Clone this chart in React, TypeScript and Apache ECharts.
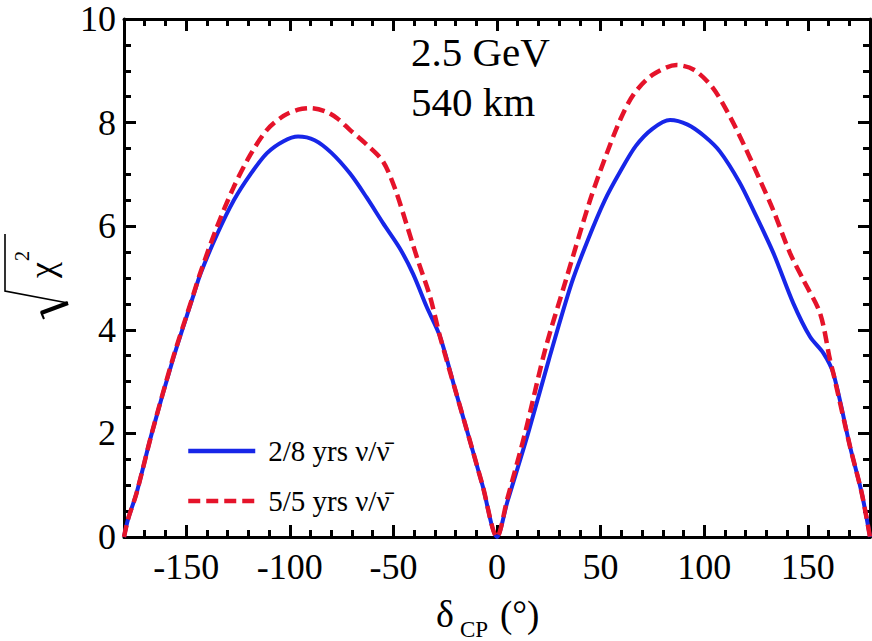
import React, { useEffect, useRef } from "react";
import * as echarts from "echarts";

// δCP (degrees) and sqrt(chi^2) for 2/8 yrs ν/ν̄
const blueDelta = [-180, -178, -174, -166.6, -156, -147, -143, -135, -127, -119, -111, -103, -96, -88, -80, -71, -63, -55, -47, -40.5, -34, -27.5, -20, -14.6, -7, 0, 5, 15, 25, 36, 44, 52, 59.4, 67, 75, 83.5, 92, 100, 107.6, 117, 123.7, 133.4, 143, 151, 157.5, 162.3, 170.4, 176, 180];
const blueChi = [0, 0.35, 0.84, 2.0, 3.48, 4.6, 5.09, 5.85, 6.5, 7.0, 7.41, 7.64, 7.73, 7.66, 7.42, 7.02, 6.56, 6.06, 5.58, 5.08, 4.45, 3.87, 2.82, 2.07, 1.0, 0, 0.68, 2.0, 3.42, 4.9, 5.75, 6.5, 7.05, 7.55, 7.88, 8.05, 7.96, 7.74, 7.44, 6.85, 6.31, 5.48, 4.51, 3.87, 3.55, 3.16, 1.74, 0.85, 0];

// δCP (degrees) and sqrt(chi^2) for 5/5 yrs ν/ν̄
const redDelta = [-180, -178, -174, -166.6, -156, -147, -143, -135, -127, -119, -111, -103, -96, -90, -83, -77, -71, -63, -55, -49, -43.6, -38, -32.3, -27.5, -20, -14.6, -7, 0, 5, 13.5, 23.2, 32.8, 44.9, 52, 59.4, 66, 75, 86.7, 95, 104, 112.5, 120, 126.9, 133.4, 141.4, 148, 155.9, 160.7, 162.3, 170.4, 176, 180];
const redChi = [0, 0.35, 0.84, 2.0, 3.5, 4.62, 5.12, 6.0, 6.76, 7.38, 7.86, 8.13, 8.25, 8.28, 8.22, 8.08, 7.86, 7.58, 7.25, 6.7, 6.03, 5.32, 4.64, 3.87, 2.82, 2.07, 1.0, 0, 0.74, 2.0, 3.61, 4.9, 6.5, 7.3, 8.05, 8.55, 8.92, 9.11, 9.02, 8.68, 8.11, 7.5, 6.89, 6.3, 5.48, 4.95, 4.32, 3.42, 3.16, 1.74, 0.85, 0];

const seriesNames = ["2/8 yrs \u03bd/\u03bd\u0304", "5/5 yrs \u03bd/\u03bd\u0304"];
const xMajorTicks = [-150, -100, -50, 0, 50, 100, 150];
const xMinorTicks = [-170, -160, -140, -130, -120, -110, -90, -80, -70, -60, -40, -30, -20, -10, 10, 20, 30, 40, 60, 70, 80, 90, 110, 120, 130, 140, 160, 170];
const yMinorTicks = [0.5, 1, 1.5, 2.5, 3, 3.5, 4.5, 5, 5.5, 6.5, 7, 7.5, 8.5, 9, 9.5];
const annotations = ["2.5 GeV", "540 km"];

const FONT = "Liberation Serif";

export default function App() {
  const ref = useRef<HTMLDivElement>(null);
  useEffect(() => {
    if (!ref.current) return;
    const chart = echarts.init(ref.current, null, { renderer: "svg" });
    const pair = (xs: number[], ys: number[]) => xs.map((x, i) => [x, ys[i]]);
    const mkLine = (show: boolean) => ({ show, onZero: false, lineStyle: { color: "#000", width: 3 } });
    const mkTick = (len: number, vals?: number[]) => {
      const t: any = { show: true, inside: true, length: len, lineStyle: { color: "#000", width: 3 } };
      if (vals) t.customValues = vals;
      return t;
    };
    const xAx = (position: string, major: boolean, labels: boolean) => ({
      type: "value", min: -180, max: 180, position, splitLine: { show: false },
      axisLine: mkLine(major),
      axisTick: major ? mkTick(12, xMajorTicks) : mkTick(7, xMinorTicks),
      axisLabel: labels
        ? { customValues: xMajorTicks, fontFamily: FONT, fontSize: 36, color: "#000", margin: 12 }
        : { show: false },
    });
    const yAx = (position: string, major: boolean, labels: boolean) => ({
      type: "value", min: 0, max: 10, interval: 2, position, splitLine: { show: false },
      axisLine: mkLine(major),
      axisTick: major ? mkTick(12) : mkTick(7, yMinorTicks),
      axisLabel: labels ? { fontFamily: FONT, fontSize: 36, color: "#000", margin: 8 } : { show: false },
    });
    const txt = (text: string, x: number, y: number, size: number, extra: any = {}) => ({
      type: "text", x, y, ...extra,
      style: { text, fontFamily: FONT, fontSize: size, fill: "#000", align: extra.align || "left", verticalAlign: "middle" },
    });
    chart.setOption({
      animation: false,
      grid: { left: 124, right: 2, top: 19, bottom: 104, outerBoundsMode: "none" },
      xAxis: [
        xAx("bottom", true, true),
        xAx("bottom", false, false),
        xAx("top", true, false),
        xAx("top", false, false),
      ],
      yAxis: [
        yAx("left", true, true),
        yAx("left", false, false),
        yAx("right", true, false),
        yAx("right", false, false),
      ],
      legend: {
        orient: "vertical", left: 181, top: 431, itemWidth: 67, itemHeight: 30, itemGap: 20,
        data: seriesNames,
        itemStyle: { opacity: 0 },
        lineStyle: { width: 4.5 },
        textStyle: { fontFamily: FONT, fontSize: 29, color: "#000", lineHeight: 30, padding: [0, 0, 0, 8] },
      },
      series: [
        { name: seriesNames[0], type: "line", data: pair(blueDelta, blueChi), symbol: "none", showSymbol: false, smooth: 0.3,
          lineStyle: { color: "#1726e8", width: 4 }, itemStyle: { color: "#1726e8" } },
        { name: seriesNames[1], type: "line", data: pair(redDelta, redChi), symbol: "none", showSymbol: false, smooth: 0.3,
          lineStyle: { color: "#e5132a", width: 4.5, type: [12, 6] }, itemStyle: { color: "#e5132a" } },
      ],
      graphic: [
        txt(annotations[0], 411, 52, 41),
        txt(annotations[1], 411, 102, 41),
        txt("\u03b4", 436, 614, 38),
        txt("CP", 460, 629, 23),
        txt("(\u00b0)", 500, 614, 37),
        txt("\u03c7", 42, 270, 36, { rotation: Math.PI / 2, align: "center" }),
        txt("2", 22, 256, 20, { rotation: Math.PI / 2, align: "center" }),
        { type: "polyline", shape: { points: [[5, 234], [5, 291], [68, 303]] }, style: { stroke: "#000", lineWidth: 1.6, fill: null } },
        { type: "line", shape: { x1: 68, y1: 303, x2: 41, y2: 313 }, style: { stroke: "#000", lineWidth: 4 } },
        { type: "line", shape: { x1: 41, y1: 312, x2: 44, y2: 319 }, style: { stroke: "#000", lineWidth: 2 } },
      ],
    });
    return () => chart.dispose();
  }, []);
  return <div ref={ref} style={{ position: "fixed", left: 0, top: 0, width: 872, height: 641, background: "#fff" }} />;
}
